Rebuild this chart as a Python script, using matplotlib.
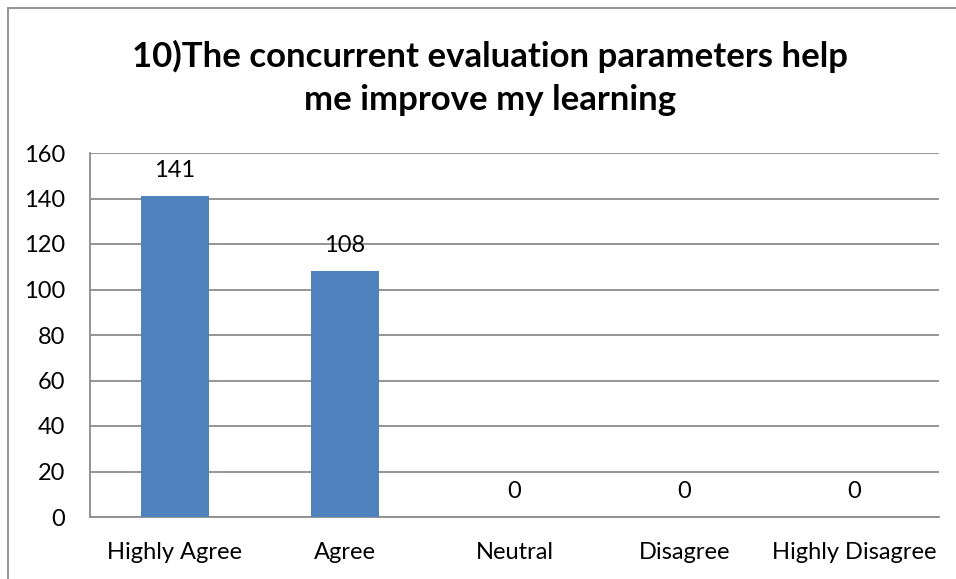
import numpy as np
import matplotlib.pyplot as plt
from matplotlib.lines import Line2D

categories = ["Highly Agree", "Agree", "Neutral", "Disagree", "Highly Disagree"]
values = [141, 108, 0, 0, 0]
yticks = [0, 20, 40, 60, 80, 100, 120, 140, 160]
title = "10)The concurrent evaluation parameters help\nme improve my learning"

plt.rcParams['font.family'] = ['Lato', 'DejaVu Sans']

W, H = 956, 579
fig = plt.figure(figsize=(W / 100, H / 100), dpi=100)
ax = fig.add_axes([90 / W, 1 - 517 / H, (939 - 90) / W, (517 - 153) / H])

x = np.arange(len(categories))
ax.bar(x, values, width=0.4, color='#4F81BD', zorder=3)
for xi, v in zip(x, values):
    ax.annotate(str(v), (xi, v), xytext=(0, 11), textcoords='offset points',
                ha='center', va='bottom', fontsize=17, color='black')

ax.set_xlim(-0.5, len(categories) - 0.5)
ax.set_ylim(0, 160)
ax.set_yticks(yticks)
ax.set_xticks(x)
ax.set_xticklabels(categories, fontsize=17)
ax.tick_params(axis='y', labelsize=17, length=0, pad=18)
ax.tick_params(axis='x', length=0, pad=18)
ax.grid(axis='y', color='#8c8c8c', linewidth=1.3, zorder=0)

for side in ['top', 'right']:
    ax.spines[side].set_visible(False)
for side in ['left', 'bottom']:
    ax.spines[side].set_color('#8c8c8c')
    ax.spines[side].set_linewidth(1.3)

fig.text(490 / W, 1 - 78 / H, title, ha='center', va='center',
         fontsize=25, fontweight='bold', linespacing=1.45)

# outer chart frame (only left and top edges visible)
fig.add_artist(Line2D([8 / W, 8 / W], [0, 1 - 8 / H], transform=fig.transFigure,
                      color='#8c8c8c', linewidth=1.3))
fig.add_artist(Line2D([8 / W, 1], [1 - 8 / H, 1 - 8 / H], transform=fig.transFigure,
                      color='#8c8c8c', linewidth=1.3))

fig.savefig("out.png", dpi=100)
